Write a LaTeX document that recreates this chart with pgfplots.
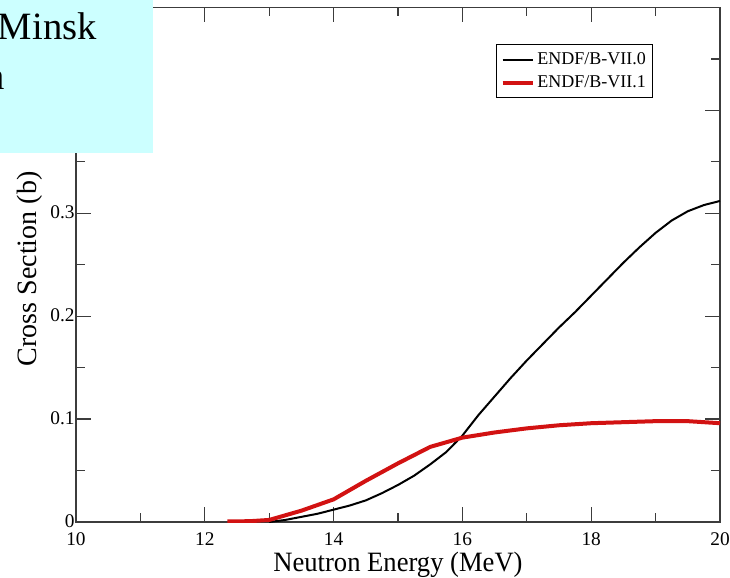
\documentclass[border=0pt]{standalone}
\usepackage{fontspec}
\setmainfont{Liberation Serif}
\usepackage{pgfplots}
\pgfplotsset{compat=1.18}
\definecolor{boxcyan}{RGB}{204,255,255}
\definecolor{evalred}{RGB}{210,18,18}
\definecolor{axisgray}{RGB}{60,60,60}
\begin{document}
\begin{tikzpicture}
% overall page frame
\path[use as bounding box] (-57pt,-41.25pt) rectangle (490.5pt,391.5pt);
\begin{axis}[
  scale only axis,
  width=483pt, height=385.875pt,
  at={(0,0)}, anchor=south west,
  xmin=10, xmax=20, ymin=0, ymax=0.5,
  xtick={10,12,...,20}, minor x tick num=1,
  ytick={0,0.1,0.2,0.3,0.4,0.5}, minor y tick num=1,
  yticklabels={0,0.1,0.2,0.3,,},
  tick align=inside,
  major tick length=11.25pt, minor tick length=6.75pt,
  every tick/.style={axisgray, line width=0.9pt},
  axis line style={axisgray, line width=1.2pt},
  /pgf/number format/assume math mode=true,
  ticklabel style={font=\rmfamily\fontsize{14.5}{16}\selectfont},
  xticklabel style={inner ysep=0.5pt, yshift=-7pt},
  yticklabel style={xshift=2.5pt, yshift=1pt},
  xlabel={Neutron Energy (MeV)},
  ylabel={Cross Section (b)},
  label style={font=\rmfamily\fontsize{21}{24}\selectfont},
  xlabel style={at={(axis description cs:0.5,-0.0955)}, anchor=base, xscale=0.95, inner sep=0.5pt},
  ylabel style={at={(axis description cs:-0.062,0.492)}, anchor=base},
  legend style={at={(rel axis cs:0.896,0.929)}, anchor=north east,
    draw=black, line width=0.75pt, inner xsep=3pt, inner ysep=4pt,
    row sep=3pt,
    font=\rmfamily\fontsize{13.5}{16}\selectfont, cells={anchor=west}},
  legend image code/.code={\draw[#1] (0pt,0pt) -- (22.5pt,0pt);},
]
\addplot[black, line width=1.5pt] coordinates {
  (13.0,0) (13.25,0.002) (13.5,0.005) (13.75,0.008) (14.0,0.012)
  (14.25,0.016) (14.5,0.021) (14.75,0.028) (15.0,0.036) (15.25,0.045)
  (15.5,0.056) (15.75,0.068) (16.0,0.084) (16.25,0.104) (16.5,0.122)
  (16.75,0.140) (17.0,0.157) (17.25,0.173) (17.5,0.189) (17.75,0.204)
  (18.0,0.220) (18.25,0.236) (18.5,0.252) (18.75,0.267) (19.0,0.281)
  (19.25,0.293) (19.5,0.302) (19.75,0.308) (20.0,0.312)
};
\addlegendentry{ENDF/B-VII.0}
\addplot[evalred, line width=3pt] coordinates {
  (12.35,0.0005) (12.7,0.0008) (13.0,0.002) (13.5,0.011) (14.0,0.022)
  (14.5,0.040) (15.0,0.057) (15.5,0.073) (16.0,0.082) (16.5,0.087)
  (17.0,0.091) (17.5,0.094) (18.0,0.096) (18.5,0.097) (19.0,0.098)
  (19.5,0.098) (20.0,0.096)
};
\addlegendentry{ENDF/B-VII.1}
\end{axis}
% caption box in the upper left corner
\begin{scope}
  \clip (-57pt,276.75pt) rectangle (57.75pt,391.5pt);
  \fill[boxcyan] (-57pt,276.75pt) rectangle (57.75pt,391.5pt);
  \node[anchor=base east, inner sep=0pt, font=\rmfamily\fontsize{29}{34}\selectfont]
    at (15.75pt,361.5pt) {Data from Minsk};
  \node[anchor=base east, inner sep=0pt, font=\rmfamily\fontsize{29}{34}\selectfont]
    at (-53.25pt,324pt) {evaluation};
\end{scope}
\end{tikzpicture}
\end{document}
